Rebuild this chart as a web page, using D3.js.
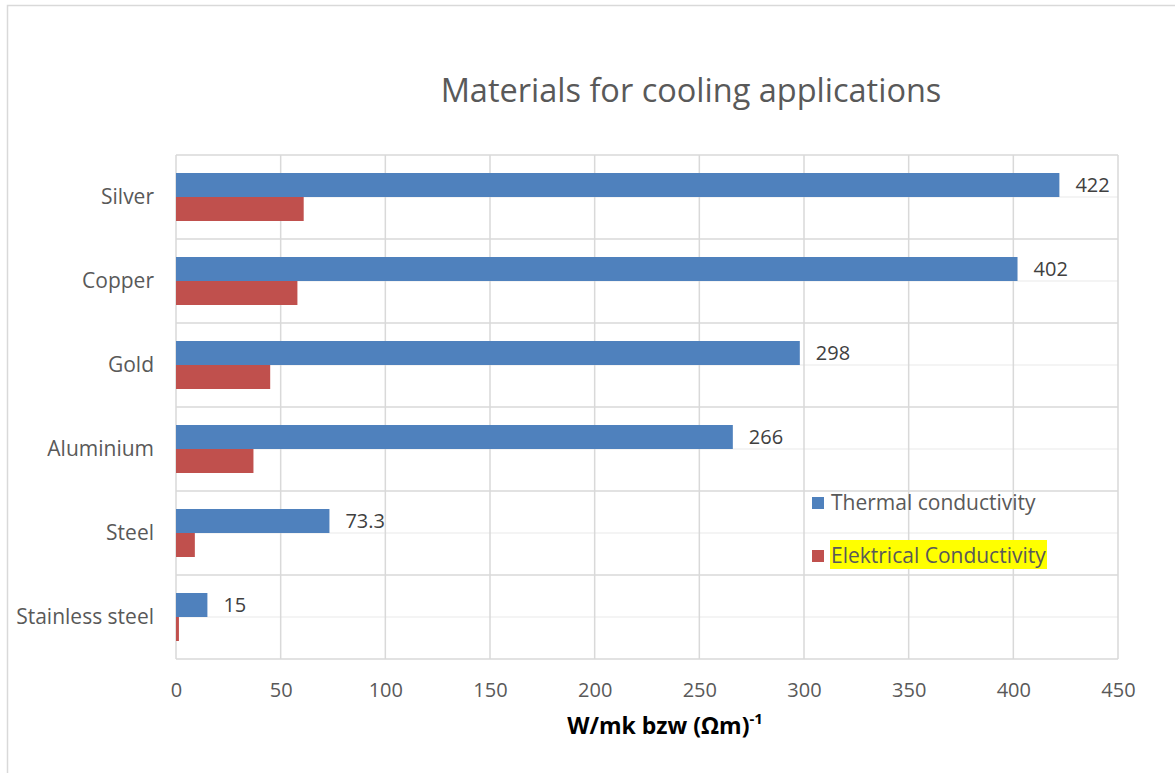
<!DOCTYPE html>
<html>
<head>
<meta charset="utf-8">
<script src="https://cdn.jsdelivr.net/npm/d3@7/dist/d3.min.js"></script>
<style>
  html, body { margin: 0; padding: 0; background: #fff; }
  svg { display: block; font-family: "Open Sans", sans-serif; }
</style>
</head>
<body>
<svg id="chart" width="1175" height="773"></svg>
<script>
// Materials, top to bottom
const materials = ["Silver", "Copper", "Gold", "Aluminium", "Steel", "Stainless steel"];
// Thermal conductivity, W/mK
const thermal = [422, 402, 298, 266, 73.3, 15];
// Electrical conductivity, 10^6 (Ωm)^-1
const electrical = [61, 58, 45, 37, 9, 1.4];
const xTicks = [0, 50, 100, 150, 200, 250, 300, 350, 400, 450];
const seriesNames = ["Thermal conductivity", "Elektrical Conductivity"];
const seriesColors = ["#4f81bd", "#c0504d"];

const svg = d3.select("#chart");
const W = 1175, H = 773;
const plot = { left: 176, right: 1118, top: 155, bottom: 659 };

// chart-area frame
svg.append("rect")
  .attr("x", 7.5).attr("y", 5.5)
  .attr("width", W + 10).attr("height", H + 10)
  .attr("fill", "#fff").attr("stroke", "#d9d9d9").attr("stroke-width", 1.5);

const x = d3.scaleLinear().domain([0, 450]).range([plot.left, plot.right]);
const y = d3.scaleBand().domain(materials).range([plot.top, plot.bottom]);
const inner = d3.scaleBand().domain([0, 1]).range([0, y.bandwidth()]).paddingOuter(0.75).paddingInner(0);

const g = svg.append("g");

// lighter lines through the middle of each category
g.selectAll("line.minor").data(materials).join("line")
  .attr("class", "minor")
  .attr("x1", plot.left).attr("x2", plot.right)
  .attr("y1", d => y(d) + y.bandwidth() / 2).attr("y2", d => y(d) + y.bandwidth() / 2)
  .attr("stroke", "#f0f0f0").attr("stroke-width", 1.5);

// category boundary lines
const bounds = materials.map(d => y(d)).concat([plot.bottom]);
g.selectAll("line.hgrid").data(bounds).join("line")
  .attr("class", "hgrid")
  .attr("x1", plot.left).attr("x2", plot.right)
  .attr("y1", d => d).attr("y2", d => d)
  .attr("stroke", "#d9d9d9").attr("stroke-width", 1.5);

// value gridlines
g.selectAll("line.vgrid").data(xTicks).join("line")
  .attr("class", "vgrid")
  .attr("x1", d => x(d)).attr("x2", d => x(d))
  .attr("y1", plot.top).attr("y2", plot.bottom)
  .attr("stroke", "#d9d9d9").attr("stroke-width", 1.5);

// bars
const series = [thermal, electrical];
series.forEach((vals, si) => {
  g.selectAll("rect.s" + si).data(materials).join("rect")
    .attr("class", "s" + si)
    .attr("x", x(0))
    .attr("y", (d, i) => y(d) + inner(si))
    .attr("width", (d, i) => x(vals[i]) - x(0))
    .attr("height", inner.bandwidth())
    .attr("fill", seriesColors[si]);
});

// data labels on the thermal bars
g.selectAll("text.val").data(materials).join("text")
  .attr("class", "val")
  .attr("x", (d, i) => x(thermal[i]) + 16)
  .attr("y", (d, i) => y(d) + inner(0) + inner.bandwidth() / 2)
  .attr("dy", "0.36em")
  .attr("font-size", 20).attr("fill", "#404040")
  .text((d, i) => thermal[i]);

// x axis
const xAxis = d3.axisBottom(x).tickValues(xTicks).tickSize(0).tickPadding(24);
const xa = svg.append("g").attr("transform", `translate(0,${plot.bottom})`).call(xAxis);
xa.select(".domain").remove();
xa.selectAll("text").attr("font-size", 20).attr("fill", "#595959").attr("font-family", "Open Sans, sans-serif");

// y axis
const yAxis = d3.axisLeft(y).tickSize(0).tickPadding(22);
const ya = svg.append("g").attr("transform", `translate(${plot.left},0)`).call(yAxis);
ya.select(".domain").remove();
ya.selectAll("text").attr("font-size", 21).attr("fill", "#595959").attr("font-family", "Open Sans, sans-serif");

// title
svg.append("text")
  .attr("x", 691).attr("y", 102)
  .attr("text-anchor", "middle")
  .attr("font-size", 32.5).attr("fill", "#595959")
  .text("Materials for cooling applications");

// axis title with superscript
const at = svg.append("text")
  .attr("x", 665).attr("y", 734)
  .attr("text-anchor", "middle")
  .attr("font-size", 23).attr("font-weight", "bold").attr("fill", "#000");
at.append("tspan").text("W/mk bzw (Ωm)");
at.append("tspan").attr("font-size", 15).attr("dy", -10).text("-1");

// legend
const legend = svg.append("g");
const legY = [502, 555];
legend.append("rect")
  .attr("x", 830).attr("y", 540).attr("width", 217).attr("height", 29)
  .attr("fill", "#ffff00");
seriesNames.forEach((name, i) => {
  legend.append("rect")
    .attr("x", 812).attr("y", legY[i] - 5).attr("width", 12).attr("height", 12)
    .attr("fill", seriesColors[i]);
  legend.append("text")
    .attr("x", 831).attr("y", legY[i])
    .attr("dy", "0.36em")
    .attr("font-size", 21).attr("fill", "#595959")
    .text(name);
});
</script>
</body>
</html>
